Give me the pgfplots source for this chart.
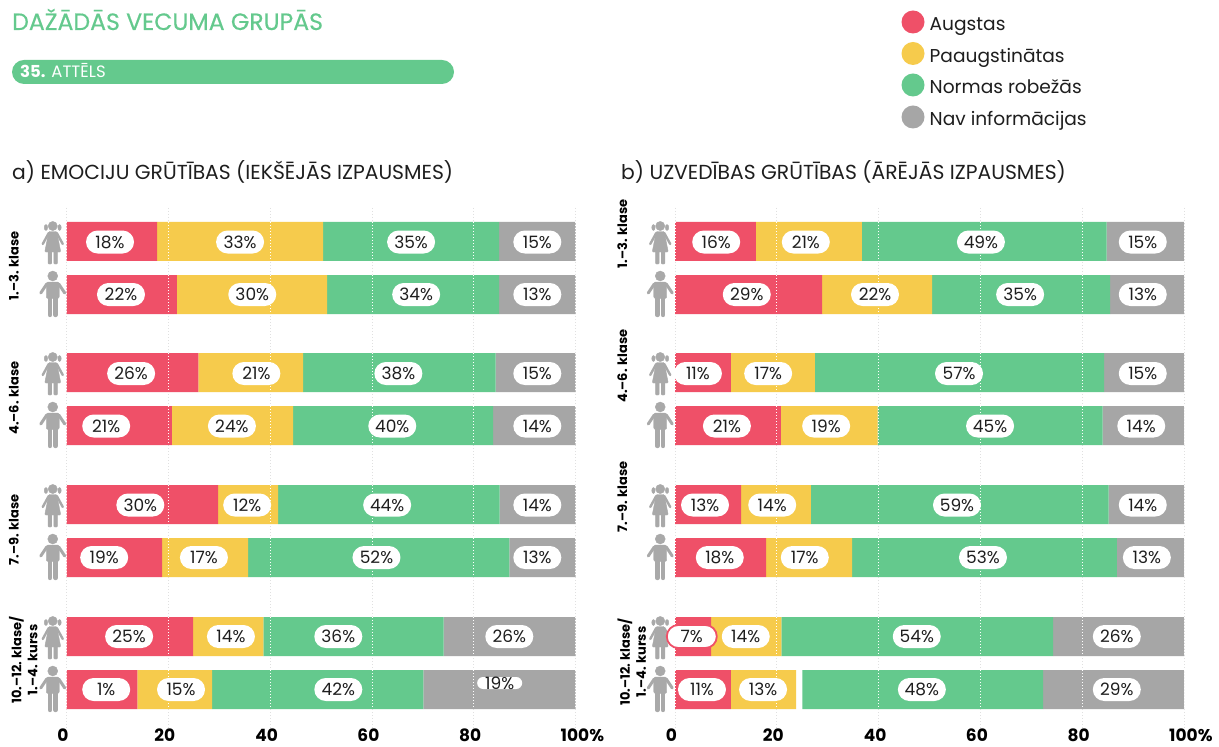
\documentclass[border=0pt]{standalone}
\usepackage{pgfplots}
\usepackage{pgfplotstable}
\usepackage{fontspec}
\setmainfont{Poppins}
\pgfplotsset{compat=1.18}
\definecolor{cR}{HTML}{EF5068}
\definecolor{cY}{HTML}{F6CB4C}
\definecolor{cG}{HTML}{64C98D}
\definecolor{cN}{HTML}{A6A6A6}
\definecolor{cI}{HTML}{A9A9A9}
\definecolor{cT}{HTML}{1E1E1E}

\pgfdeclareplotmark{boy}{%
  \fill[cI] (0pt,18.5pt) circle (5pt);
  \fill[cI,rounded corners=2pt] (-6.5pt,12.5pt) rectangle (6.5pt,-4pt);
  \draw[cI,line width=3pt,line cap=round] (-6pt,10.5pt) -- (-12pt,1.5pt);
  \draw[cI,line width=3pt,line cap=round] (6pt,10.5pt) -- (12pt,1.5pt);
  \draw[cI,line width=4.4pt,line cap=round] (-2.8pt,-3pt) -- (-2.8pt,-20.5pt);
  \draw[cI,line width=4.4pt,line cap=round] (2.8pt,-3pt) -- (2.8pt,-20.5pt);
}
\pgfdeclareplotmark{girl}{%
  \fill[cI] (0pt,15.5pt) circle (4.6pt);
  \fill[cI] (-6.8pt,14pt) ellipse (1.7pt and 3pt);
  \fill[cI] (6.8pt,14pt) ellipse (1.7pt and 3pt);
  \fill[cI,rounded corners=1pt] (-4pt,10pt) -- (4pt,10pt) -- (8pt,-10.5pt) -- (-8pt,-10.5pt) -- cycle;
  \draw[cI,line width=2.4pt,line cap=round] (-4pt,8.5pt) -- (-10pt,-2.5pt);
  \draw[cI,line width=2.4pt,line cap=round] (4pt,8.5pt) -- (10pt,-2.5pt);
  \fill[cI,rounded corners=.8pt] (-4.6pt,-10pt) rectangle (-1pt,-22.5pt);
  \fill[cI,rounded corners=.8pt] (1pt,-10pt) rectangle (4.6pt,-22.5pt);
}

% bar lengths as drawn, rows placed at their vertical position
\pgfplotstableread{
y red yellow gap green gray
241.5 17.8 32.6 0 34.6 15.0
294.5 21.7 29.5 0 33.8 15.0
372.5 25.9 20.6 0 37.8 15.7
425.5 20.7 23.8 0 39.3 16.2
504.5 29.8 11.8 0 43.5 14.9
557.5 18.8 16.9 0 51.3 13.0
636.5 24.9 13.8 0 35.4 25.9
689.5 13.9 14.7 0 41.5 29.9
}\tabA
\pgfplotstableread{
y red yellow gap green gray
241.5 15.9 20.8 0 48.1 15.2
294.5 28.9 21.6 0 35.0 14.5
372.5 11.0 16.5 0 56.8 15.7
425.5 20.8 19.0 0 44.2 16.0
504.5 13.0 13.7 0 58.5 14.8
557.5 17.9 16.9 0 52.0 13.2
636.5  7.1 13.8 0 53.4 25.7
689.5 11.0 12.8 1.2 47.3 27.7
}\tabB
% value labels: position along the bar, row, printed value
\pgfplotstableread{
x y v
8.55 242 18
34.1 242 33
67.7 242 35
92.5 242 15
10.7 294.5 22
36.5 294.5 30
68.7 294.5 34
92.5 294.5 13
12.7 373.5 26
37.3 373.5 21
65.2 373.5 38
92.5 373.5 15
7.8 426 21
32.5 426 24
64.0 426 40
92.5 426 14
14.5 505 30
35.5 505 12
63.0 505 44
92.5 505 14
7.4 557.5 19
27.0 557.5 17
60.9 557.5 52
92.5 557.5 13
12.3 636.5 25
32.3 636.5 14
53.4 636.5 36
87.0 636.5 26
7.8 689.5 1
22.5 689.5 15
53.4 689.5 42
}\labA
\pgfplotstableread{
x y v
8.1 242 16
25.7 242 21
60.1 242 49
91.9 242 15
14.1 294.5 29
39.3 294.5 22
67.8 294.5 35
91.9 294.5 13
4.5 373.5 11
18.3 373.5 17
55.8 373.5 57
91.9 373.5 15
10.2 426 21
29.7 426 19
61.9 426 45
91.6 426 14
5.9 505 13
19.1 505 14
55.4 505 59
91.9 505 14
8.8 557.5 18
25.5 557.5 17
60.5 557.5 53
92.7 557.5 13
13.9 636.5 14
47.5 636.5 54
86.8 636.5 26
5.3 689.5 11
17.3 689.5 13
48.5 689.5 48
86.8 689.5 29
}\labB
\pgfplotstableread{
x y v
85.1 683 19
}\labAx
\pgfplotstableread{
x y v
3.3 636.5 7
}\labBx
\pgfplotstableread{
y
222
261
nan
275
314
nan
353
392
nan
406
445
nan
485
524
nan
538
577
nan
617
656
nan
670
709
}\rowsT

\tikzset{pill/.style={font=\fontsize{17}{17}\selectfont,text=cT,fill=white,rounded corners=11.5pt,inner sep=0pt,minimum width=48pt,minimum height=23pt,anchor=center,text height=12pt,text depth=0pt}}
\pgfplotsset{
  base/.style={
    at={(#1,17pt)},anchor=south west,
    width=509pt,height=522pt,scale only axis,
    xmin=0,xmax=100,ymin=208,ymax=730,y dir=reverse,clip=false},
  labelplot/.style={draw=none,mark=none,
    nodes near coords={\pgfplotspointmeta\%},
    point meta=explicit symbolic,
    nodes near coords style={pill}},
}
\newcommand\panel[8]{%
\begin{axis}[base=#1,
  xbar stacked,bar width=39pt,
  axis line style={draw=none},major tick length=0pt,
  xmajorgrids,grid style={draw=black!12,dash pattern=on 1pt off 2pt,line width=.8pt},
  xtick={0,20,40,60,80,100},
  xticklabels={0,20,40,60,80,\makebox[0pt][c]{\kern6pt 100\rlap{\%}}},
  xticklabel pos=lower,
  xticklabel style={font=\fontsize{17}{17}\selectfont\bfseries,xshift=-3.5pt,text=black,anchor=base,inner sep=0pt,yshift=-11pt},
  ytick={#5},
  yticklabels={#6},
  yticklabel style={font=\fontsize{13}{16}\selectfont\bfseries,rotate=90,anchor=north,align=center,yshift=61pt,text=black},
]
\addplot[fill=cR,draw=none] table[x=red,y=y]{#2};
\addplot[fill=cY,draw=none] table[x=yellow,y=y]{#2};
\addplot[fill=white,draw=none] table[x=gap,y=y]{#2};
\addplot[fill=cG,draw=none] table[x=green,y=y]{#2};
\addplot[fill=cN,draw=none] table[x=gray,y=y]{#2};
\end{axis}
\begin{axis}[base=#1,hide axis]
\pgfplotsinvokeforeach{0,20,40,60,80,100}{
  \addplot[white,line width=.8pt,dash pattern=on 1pt off 2pt,unbounded coords=jump] table[x expr=##1,y=y]{\rowsT};
}
\addplot[only marks,mark=girl] coordinates {(#4,241.5)(#4,372.5)(#4,504.5)(#4,636.5)};
\addplot[only marks,mark=boy] coordinates {(#4,294.5)(#4,425.5)(#4,557.5)(#4,689.5)};
\addplot[labelplot] table[x=x,y=y,meta=v]{#3};
\addplot[labelplot,#7] table[x=x,y=y,meta=v]{#8};
\end{axis}
}

\begin{document}
\begin{tikzpicture}
\useasboundingbox (0,0) rectangle (1219pt,747pt);
\fill[white] (0,0) rectangle (1219pt,747pt);

\panel{66.5pt}{\tabA}{\labA}{-2.7}{266,398,530,660}{1.--3. klase,4.--6. klase,7.--9. klase,{10.--12. klase/\\1.--4. kurss}}{nodes near coords style={minimum width=45pt,minimum height=12pt,rounded corners=6pt}}{\labAx}
\panel{675pt}{\tabB}{\labB}{-2.9}{234,366,497,662}{1.--3. klase,4.--6. klase,7.--9. klase,{10.--12. klase/\\1.--4. kurss}}{nodes near coords style={draw=cR,line width=1.8pt,minimum width=50pt}}{\labBx}

\begin{scope}[x=1pt,y=-1pt,shift={(0pt,747pt)}]
\node[anchor=base west,inner sep=0pt,text=cG,font=\fontsize{23.6}{24}\selectfont\addfontfeature{FakeBold=0.4}] at (12,30) {DAŽĀDĀS VECUMA GRUPĀS};
\fill[cG,rounded corners=12pt] (12,60) rectangle (454,84);
\node[anchor=base west,inner sep=0pt,text=white,font=\fontsize{16.5}{17}\selectfont] at (20,78) {\textbf{35.} ATTĒLS};
\node[anchor=base west,inner sep=0pt,text=cT,font=\fontsize{20.3}{21}\selectfont] at (12,180) {a) EMOCIJU GRŪTĪBAS (IEKŠĒJĀS IZPAUSMES)};
\node[anchor=base west,inner sep=0pt,text=cT,font=\fontsize{20.3}{21}\selectfont] at (621,180) {b) UZVEDĪBAS GRŪTĪBAS (ĀRĒJĀS IZPAUSMES)};
\foreach \py/\c/\t in {22/cR/Augstas,53.5/cY/Paaugstinātas,85/cG/Normas robežās,117/cN/Nav informācijas}{
  \fill[\c] (913,\py) circle (11.5pt);
  \node[anchor=base west,inner sep=0pt,text=cT,font=\fontsize{18.6}{19}\selectfont] at (929.5,\py+8.8) {\t};
}
\end{scope}
\end{tikzpicture}
\end{document}
